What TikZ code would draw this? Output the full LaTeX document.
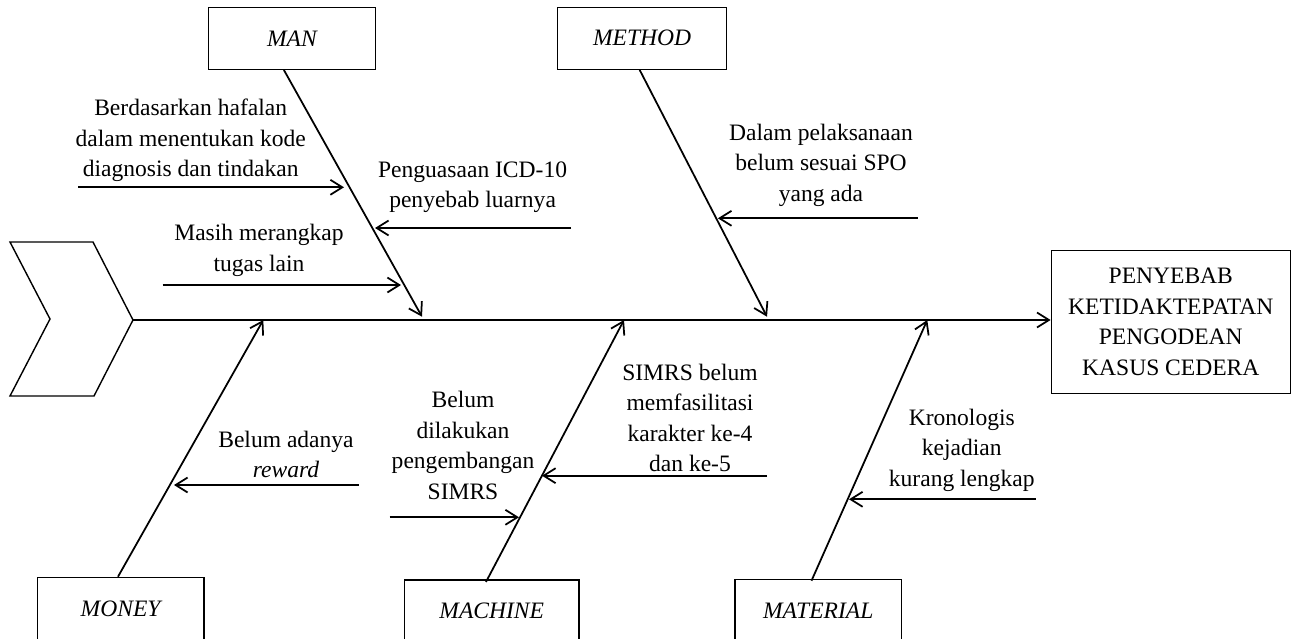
\documentclass[tikz,border=0pt]{standalone}
\usepackage{fontspec}
\setmainfont{Liberation Serif}
\usepackage{tikz}
\usetikzlibrary{calc}
\usetikzlibrary{arrows.meta}
\tikzset{%Global config
	>={Straight Barb[length=6.8pt,width=8.5pt]},
	color = black ,
	%Styles
	Box/.style={
		draw,
		line width=0.8pt,
		minimum height=1.24cm,
		inner sep=0pt,
		align=center,
		font=\itshape,
	},
	Note/.style={
		align=center,
		inner sep=0pt,
		yshift=-2,
	},
	Bone/.style={
		line width=1pt,
		->,
	},
	Sub/.style={
		line width=1pt,
		->,
	}
}

\begin{document}
\fontsize{13.4}{17.4}\selectfont
\begin{tikzpicture}[x=0.02cm,y=-0.02cm]
		\useasboundingbox (0,0) rectangle (1292,639);
		\clip (0,0) rectangle (1292,639);
		% Head of the fish
		\draw[line width=0.8pt] (10,242) -- (93,242) -- (133,320) -- (94,396) -- (10,396) -- (50,319) -- cycle;
		\coordinate (tail) at (133,320);
		\node[draw, line width=0.8pt, align=center, inner sep=0pt, minimum width=4.78cm, minimum height=2.85cm] (effect) at (1170.8,322)
			{PENYEBAB\\KETIDAKTEPATAN\\PENGODEAN\\KASUS CEDERA};
		\draw[Bone] (tail) -- (effect.west |- tail);
		
		% Category boxes
		\node[Box, minimum width=3.334cm] (man) at (291.9,38.3) {MAN};
		\node[Box, minimum width=3.38cm] (method) at (642.1,38.3) {METHOD};
		\node[Box, minimum width=3.334cm, anchor=north] (money) at (120.6,576.7) {MONEY};
		\node[Box, minimum width=3.5cm, anchor=north] (machine) at (491.7,579.3) {MACHINE};
		\node[Box, minimum width=3.33cm, anchor=north] (material) at (818.2,578.7) {MATERIAL};
		
		% Ends of the bones on the spine
		\coordinate (manEnd) at (422,316.7);
		\coordinate (methodEnd) at (767,316.7);
		\coordinate (moneyEnd) at (263.3,320);
		\coordinate (machineEnd) at (624,320);
		\coordinate (materialEnd) at (927.3,320);
		
		\draw[Bone] ($(man.south)+(-8,0)$) -- (manEnd);
		\draw[Bone] ($(method.south)+(-2.4,0)$) -- (methodEnd);
		\draw[Bone] ($(money.north)+(-2.6,0)$) -- (moneyEnd);
		\draw[Bone] ($(machine.north)+(-5.7,2.6)$) -- (machineEnd);
		\draw[Bone] ($(material.north)+(-6.7,2)$) -- (materialEnd);
		
		% Causes
		\node[Note] (hafalan) at (190.7,137) {Berdasarkan hafalan\\dalam menentukan kode\\diagnosis dan tindakan};
		\node[Note] (icd) at (472.6,183.5) {Penguasaan ICD-10\\penyebab luarnya};
		\node[Note] (tugas) at (259,247) {Masih merangkap\\tugas lain};
		\node[Note] (spo) at (821,161.5) {Dalam pelaksanaan\\belum sesuai SPO\\yang ada};
		\node[Note] (reward) at (286,451) {Belum adanya\\\textit{reward}};
		\node[Note] (kembang) at (463,442) {Belum\\dilakukan\\pengembangan\\SIMRS};
		\node[Note] (karakter) at (690,414.5) {SIMRS belum\\memfasilitasi\\karakter ke-4\\dan ke-5};
		\node[Note] (kronologis) at (961.8,446.5) {Kronologis\\kejadian\\kurang lengkap};
		
		\coordinate (hafalanA) at (78,187.3);	\coordinate (hafalanB) at (344,187.3);
		\coordinate (icdA) at (571,228);		\coordinate (icdB) at (375,228);
		\coordinate (tugasA) at (162.5,285);	\coordinate (tugasB) at (401,285);
		\coordinate (spoA) at (917.7,218.3);	\coordinate (spoB) at (717.9,218.3);
		\coordinate (rewardA) at (358.6,485);	\coordinate (rewardB) at (174,485);
		\coordinate (kembangA) at (389.7,517.3);	\coordinate (kembangB) at (519,517.3);
		\coordinate (karakterA) at (767,475.7);	\coordinate (karakterB) at (542,475.7);
		\coordinate (kronologisA) at (1035.5,499.3);	\coordinate (kronologisB) at (849,499.3);
		
		\foreach \c in {hafalan,icd,tugas,spo,reward,kembang,karakter,kronologis}
			\draw[Sub] (\c A) -- (\c B);
	\end{tikzpicture}
\end{document}
